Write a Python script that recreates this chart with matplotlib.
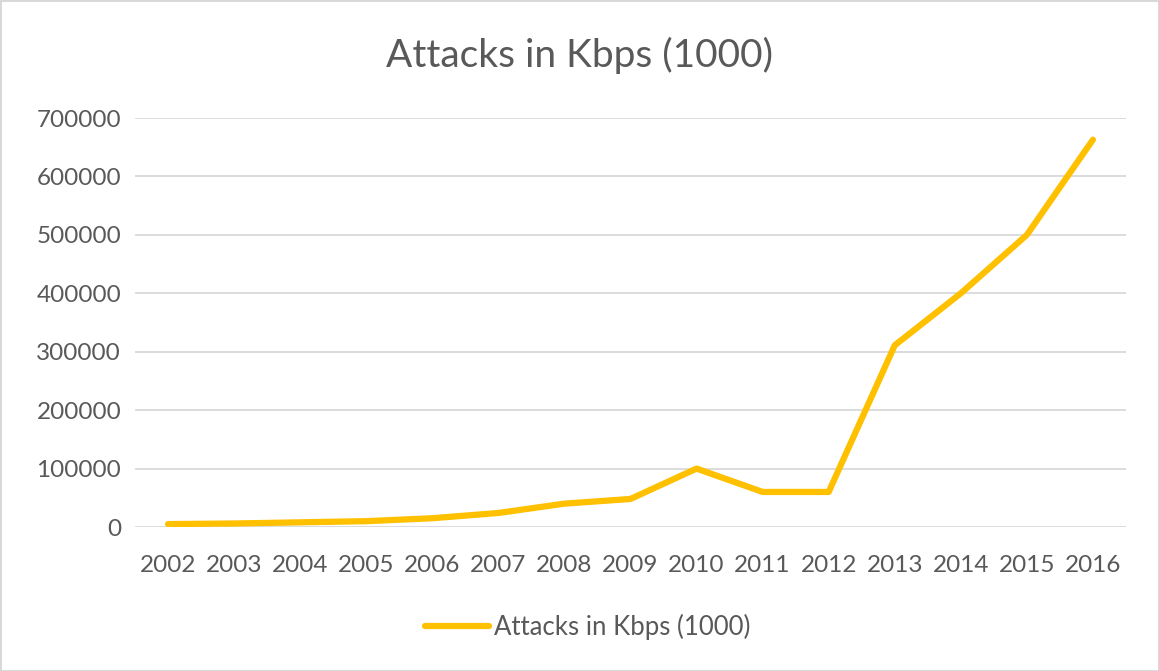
import matplotlib.pyplot as plt

# yearly attack bandwidth, Kbps (1000)
years = ["2002", "2003", "2004", "2005", "2006", "2007", "2008", "2009",
         "2010", "2011", "2012", "2013", "2014", "2015", "2016"]
attacks = [5000, 6000, 8000, 10000, 15000, 24000, 40000, 48000,
           100000, 60000, 60000, 311000, 400000, 500000, 663000]
y_ticks = [0, 100000, 200000, 300000, 400000, 500000, 600000, 700000]

plt.rcParams['font.family'] = ['Lato', 'DejaVu Sans']
text_color = "#595959"

fig = plt.figure(figsize=(11.59, 6.71), dpi=100)
fig.patch.set_edgecolor("#d9d9d9")
fig.patch.set_linewidth(2)
ax = fig.add_axes([0.1165, 0.2146, 0.855, 0.6095])

x = list(range(len(years)))
ax.plot(x, attacks, color="#FFC000", lw=4.5, solid_joinstyle="round",
        solid_capstyle="round", label="Attacks in Kbps (1000)")

ax.set_xlim(-0.5, len(years) - 0.5)
ax.set_ylim(0, 700000)
ax.set_xticks(x)
ax.set_xticklabels(years)
ax.set_yticks(y_ticks)
ax.set_yticklabels([str(v) for v in y_ticks])
ax.grid(axis="y", color="#d9d9d9", lw=1.3)
ax.set_axisbelow(True)
for s in ax.spines.values():
    s.set_visible(False)
ax.tick_params(axis="both", length=0, labelsize=17.5, labelcolor=text_color)
ax.tick_params(axis="x", pad=20)
ax.tick_params(axis="y", pad=10)

fig.text(0.5, 0.918, "Attacks in Kbps (1000)", ha="center", va="center",
         fontsize=28, color=text_color)

fig.legend(loc="center", bbox_to_anchor=(0.507, 0.066), frameon=False,
           fontsize=18.5, labelcolor=text_color, handlelength=2.5,
           handletextpad=0.2)

fig.savefig("out.png", dpi=100)
